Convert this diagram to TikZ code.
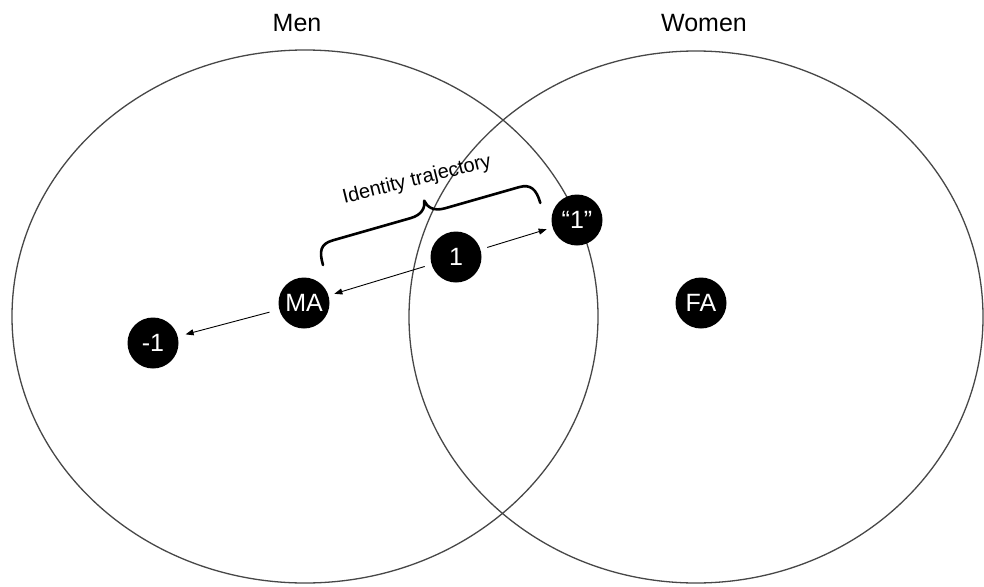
\documentclass[tikz,border=0pt]{standalone}
\usepackage{fontspec}
\setmainfont{Liberation Sans}
\usetikzlibrary{arrows.meta}
\begin{document}
\begin{tikzpicture}[x=1pt,y=-1pt,
  dot/.style={circle,fill=black,minimum size=51pt,inner sep=0pt,text=white,font=\fontsize{25}{29}\selectfont},
  ring/.style={draw=black!72,line width=1.3pt},
  arr/.style={-{Triangle[length=8pt,width=6pt]},line width=0.9pt,shorten <=7pt,shorten >=6pt},
  lbl/.style={font=\fontsize{25}{30}\selectfont},
  bracestyle/.style={line width=2.6pt,line cap=round,line join=round}]
\useasboundingbox (0,0) rectangle (984,586);
\fill[white] (0,0) rectangle (984,586);
\draw[ring] (305,316.5) ellipse [x radius=293pt,y radius=266.5pt];
\draw[ring] (696,317) ellipse [x radius=287pt,y radius=266pt];
\node[lbl] (men) at (297,23.5) {Men};
\node[lbl] (women) at (704,23.5) {Women};
\node[dot] (ma) at (304,303) {MA};
\node[dot] (m1) at (153,343) {-1};
\node[dot] (one) at (456,257) {1};
\node[dot] (q1) at (577,220) {“1”};
\node[dot] (fa) at (701,303) {FA};
\draw[arr] (one) -- (q1);
\draw[arr] (one) -- (ma);
\draw[arr,shorten <=10pt,shorten >=8pt] (ma) -- (m1);
\begin{scope}[shift={(323,265)},rotate=15.95]
\draw[bracestyle] (0pt,0pt) .. controls (0pt,14pt) and (3pt,21pt) .. (16pt,21pt)
  -- (97pt,21pt) .. controls (109pt,21pt) and (114pt,27pt) .. (115pt,34pt)
  .. controls (116pt,27pt) and (121pt,21pt) .. (133pt,21pt)
  -- (210pt,21pt) .. controls (222pt,21pt) and (226pt,14pt) .. (226pt,0pt);
\end{scope}
\node[font=\fontsize{20}{24}\selectfont,rotate=14] (traj) at (417,180) {Identity trajectory};
\end{tikzpicture}
\end{document}
